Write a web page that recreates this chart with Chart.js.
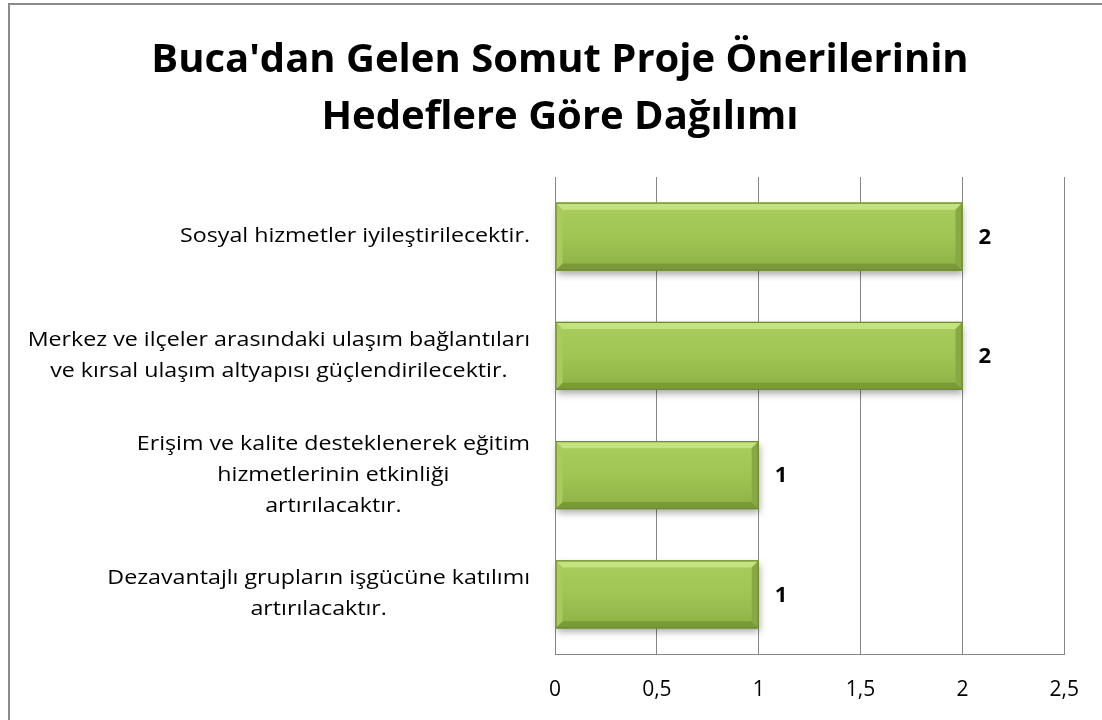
<!DOCTYPE html>
<html>
<head>
<meta charset="utf-8">
<script src="https://cdn.jsdelivr.net/npm/chart.js@4"></script>
<style>
  html, body { margin: 0; padding: 0; background: #fff; }
  #wrap { position: relative; width: 1102px; height: 720px; overflow: hidden; }
  #frame { position: absolute; left: 8px; top: 3px; width: 1200px; height: 800px;
           border-left: 2px solid #8a8a8a; border-top: 2px solid #8a8a8a; }
  canvas { position: absolute; left: 0; top: 0; }
</style>
</head>
<body>
<div id="wrap">
  <div id="frame"></div>
  <canvas id="chart" width="1102" height="720"></canvas>
</div>
<script>
// chart data
const titleLines = ["Buca'dan Gelen Somut Proje Önerilerinin", "Hedeflere Göre Dağılımı"];
const categories = [
  ["Sosyal hizmetler iyileştirilecektir."],
  ["Merkez ve ilçeler arasındaki ulaşım bağlantıları", "ve kırsal ulaşım altyapısı güçlendirilecektir."],
  ["Erişim ve kalite desteklenerek eğitim", "hizmetlerinin etkinliği", "artırılacaktır."],
  ["Dezavantajlı grupların işgücüne katılımı", "artırılacaktır."]
];
const values = [2, 2, 1, 1];
const xTicks = [0, 0.5, 1, 1.5, 2, 2.5];

const FONT = "'Open Sans', 'Noto Sans', sans-serif";

// category labels: block right-aligned, lines centred inside the block
// (text is stretched a bit sideways, the original font is wider than Open Sans)
const labelPlugin = {
  id: 'labels',
  afterDraw(chart) {
    const ctx = chart.ctx;
    const y = chart.scales.y;
    const right = chart.chartArea.left - 25;
    const lh = 31;
    const sx = 1.19;
    ctx.save();
    ctx.font = "19.5px " + FONT;
    ctx.fillStyle = '#000';
    ctx.textBaseline = 'middle';
    ctx.textAlign = 'center';
    categories.forEach((lines, i) => {
      const cy = y.getPixelForTick(i);
      const w = Math.max(...lines.map(l => ctx.measureText(l).width)) * sx;
      const cx = right - w / 2;
      const top = cy - (lines.length - 1) * lh / 2;
      lines.forEach((l, j) => {
        ctx.save();
        ctx.translate(cx, top + j * lh);
        ctx.scale(sx, 1);
        ctx.fillText(l, 0, 0);
        ctx.restore();
      });
    });
    ctx.restore();
  }
};

// bevelled green bars drawn over the library's bar geometry
const bevelPlugin = {
  id: 'bevel',
  afterDatasetsDraw(chart) {
    const ctx = chart.ctx;
    const meta = chart.getDatasetMeta(0);
    ctx.save();
    meta.data.forEach((bar, i) => {
      const x0 = bar.base, x1 = bar.x;
      const y0 = bar.y - bar.height / 2, y1 = bar.y + bar.height / 2;
      const w = x1 - x0, h = y1 - y0, b = 7;

      // drop shadow
      ctx.save();
      ctx.shadowColor = 'rgba(0,0,0,0.35)';
      ctx.shadowBlur = 7;
      ctx.shadowOffsetY = 4;
      ctx.shadowOffsetX = 1;
      ctx.fillStyle = '#8fb145';
      ctx.fillRect(x0, y0, w, h);
      ctx.restore();

      const g = ctx.createLinearGradient(0, y0, 0, y1);
      g.addColorStop(0, '#aacd5e');
      g.addColorStop(0.5, '#a0c553');
      g.addColorStop(1, '#8eb046');
      ctx.fillStyle = g;
      ctx.fillRect(x0, y0, w, h);

      // top bevel
      ctx.fillStyle = '#c4e27e';
      ctx.beginPath();
      ctx.moveTo(x0, y0); ctx.lineTo(x1, y0); ctx.lineTo(x1 - b, y0 + b); ctx.lineTo(x0 + b, y0 + b);
      ctx.closePath(); ctx.fill();
      // bottom bevel
      ctx.fillStyle = '#7a9a3a';
      ctx.beginPath();
      ctx.moveTo(x0, y1); ctx.lineTo(x1, y1); ctx.lineTo(x1 - b, y1 - b); ctx.lineTo(x0 + b, y1 - b);
      ctx.closePath(); ctx.fill();
      // left bevel
      ctx.fillStyle = '#a8cb5d';
      ctx.beginPath();
      ctx.moveTo(x0, y0); ctx.lineTo(x0 + b, y0 + b); ctx.lineTo(x0 + b, y1 - b); ctx.lineTo(x0, y1);
      ctx.closePath(); ctx.fill();
      // right bevel
      ctx.fillStyle = '#88a943';
      ctx.beginPath();
      ctx.moveTo(x1, y0); ctx.lineTo(x1 - b, y0 + b); ctx.lineTo(x1 - b, y1 - b); ctx.lineTo(x1, y1);
      ctx.closePath(); ctx.fill();

      ctx.strokeStyle = '#6b8a30';
      ctx.lineWidth = 1.2;
      ctx.strokeRect(x0 + 0.5, y0 + 0.5, w - 1, h - 1);

      // value label
      ctx.fillStyle = '#000';
      ctx.font = "bold 22px " + FONT;
      ctx.textAlign = 'left';
      ctx.textBaseline = 'middle';
      ctx.fillText(String(values[i]).replace('.', ','), x1 + 16, bar.y + 1);
    });
    ctx.restore();
  }
};

new Chart(document.getElementById('chart'), {
  type: 'bar',
  data: {
    labels: categories,
    datasets: [{
      data: values,
      backgroundColor: '#9bbb59',
      borderWidth: 0,
      barPercentage: 0.57,
      categoryPercentage: 1
    }]
  },
  options: {
    indexAxis: 'y',
    responsive: false,
    animation: false,
    layout: { padding: { left: 55, right: 37, top: 0, bottom: 0 } },
    plugins: {
      legend: { display: false },
      tooltip: { enabled: false },
      title: {
        display: true,
        text: titleLines,
        color: '#000',
        font: { family: FONT, size: 40, weight: 'bold', lineHeight: 57 / 40 },
        padding: { top: 32, bottom: 31 }
      }
    },
    scales: {
      x: {
        min: 0,
        max: 2.5,
        afterBuildTicks(scale) { scale.ticks = xTicks.map(v => ({ value: v })); },
        ticks: {
          color: '#000',
          font: { family: FONT, size: 21 },
          padding: 23,
          maxRotation: 0,
          callback: v => String(v).replace('.', ',')
        },
        grid: { color: '#868686', lineWidth: 1, drawTicks: false },
        border: { color: '#868686' },
        afterFit(scale) { scale.height = 66; }
      },
      y: {
        ticks: { display: false },
        grid: { display: false },
        border: { display: false },
        afterFit(scale) { scale.width = 500; }
      }
    }
  },
  plugins: [labelPlugin, bevelPlugin]
});
</script>
</body>
</html>
